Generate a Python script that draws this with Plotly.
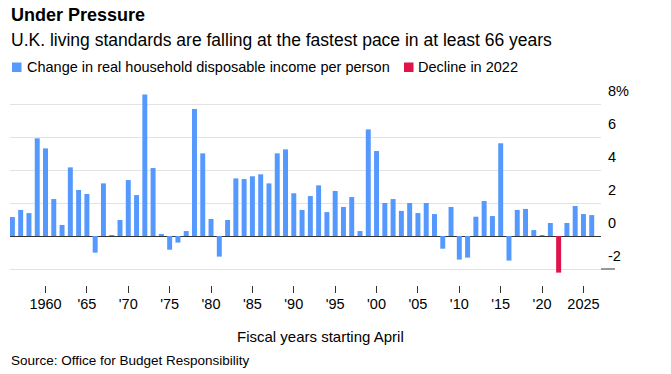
import plotly.graph_objects as go

# ---- data ----
years = list(range(1956, 2027))
values = [
    1.15, 1.58, 1.39, 5.92, 5.31, 2.24, 0.67, 4.16, 2.79, 2.55,   # 1956-1965
    -1.01, 3.19, 0.06, 0.97, 3.39, 2.48, 8.57, 4.12, 0.12, -0.83,  # 1966-1975
    -0.40, 0.30, 7.70, 5.01, 1.03, -1.25, 0.97, 3.49, 3.45, 3.62,  # 1976-1985
    3.74, 3.19, 5.01, 5.25, 2.59, 1.58, 2.42, 3.07, 1.45, 2.73,    # 1986-1995
    1.76, 2.36, 0.30, 6.46, 5.15, 2.00, 2.24, 1.52, 2.00, 1.39,    # 1996-2005
    2.00, 1.33, -0.77, 1.76, -1.43, -1.31, 1.17, 2.12, 1.21, 5.62, # 2006-2015
    -1.49, 1.58, 1.64, 0.36, 0.06, 0.79, -2.22, 0.79, 1.82, 1.33,  # 2016-2025
    1.27,                                                          # 2026
]
highlight_year = 2022

x_tickvals = [1960, 1965, 1970, 1975, 1980, 1985, 1990, 1995, 2000, 2005, 2010, 2015, 2020, 2025]
x_ticktext = ["1960", "'65", "'70", "'75", "'80", "'85", "'90", "'95", "'00", "'05", "'10", "'15", "'20", "2025"]
y_tickvals = [-2, 0, 2, 4, 6, 8]
y_ticktext = ["-2", "0", "2", "4", "6", "8%"]

series_name = "Change in real household disposable income per person"
highlight_name = "Decline in 2022"

BLUE = "#5599ff"
RED = "#e0134b"
FONT = "Liberation Sans, Arial, sans-serif"

W, H = 671, 374
# plot area in window pixels
PL, PR, PT, PB = 10, 601, 89, 285
L, R, T, B = PL, W - PR, PT, H - PB
PW, PH = PR - PL, PB - PT


def px2x(px):
    return (px - PL) / PW


def px2y(py):
    return (PB - py) / PH


blue_x = [y for y in years if y != highlight_year]
blue_v = [v for y, v in zip(years, values) if y != highlight_year]
red_x = [y for y in years if y == highlight_year]
red_v = [v for y, v in zip(years, values) if y == highlight_year]

fig = go.Figure()
fig.add_trace(go.Bar(x=blue_x, y=blue_v, width=0.6, marker=dict(color=BLUE, line=dict(width=0)),
                     name=series_name, showlegend=False))
fig.add_trace(go.Bar(x=red_x, y=red_v, width=0.6, marker=dict(color=RED, line=dict(width=0)),
                     name=highlight_name, showlegend=False))

fig.update_layout(
    width=W, height=H,
    margin=dict(l=L, r=R, t=T, b=B, pad=0),
    paper_bgcolor="white", plot_bgcolor="white",
    barmode="overlay",
    font=dict(family=FONT, color="#000", size=14),
    showlegend=False,
)

fig.update_xaxes(
    range=[1955.71, 2027.12],
    tickvals=x_tickvals, ticktext=x_ticktext,
    ticks="outside", ticklen=7, tickwidth=1, tickcolor="#333",
    ticklabelstandoff=-1,
    showgrid=False, zeroline=False, showline=False,
    tickfont=dict(size=14.5, color="#000"),
)
fig.update_yaxes(
    range=[-2.97, 8.91],
    side="right",
    tickvals=y_tickvals, ticktext=y_ticktext,
    ticklabelposition="outside top",
    ticklabelshift=-3,
    ticks="", ticklabelstandoff=6,
    showgrid=True, gridcolor="#e3e3e3", gridwidth=1,
    zeroline=True, zerolinecolor="#333", zerolinewidth=1,
    showline=False,
    tickfont=dict(size=14.5, color="#000"),
)

# dark dash at the bottom gridline in the label area
fig.add_shape(type="line", xref="paper", yref="y", x0=1.0, x1=px2x(615),
              y0=y_tickvals[0], y1=y_tickvals[0], line=dict(color="#333", width=1))

annotations = [
    dict(text="<b>Under Pressure</b>", x=px2x(9), y=px2y(15), font=dict(size=18)),
    dict(text="U.K. living standards are falling at the fastest pace in at least 66 years",
         x=px2x(9), y=px2y(40), font=dict(size=17.5)),
    dict(text=series_name, x=px2x(25), y=px2y(67), font=dict(size=14.5)),
    dict(text=highlight_name, x=px2x(416), y=px2y(67), font=dict(size=14.5)),
    dict(text="Source: Office for Budget Responsibility", x=px2x(9), y=px2y(360), font=dict(size=13.5)),
]
for a in annotations:
    fig.add_annotation(xref="paper", yref="paper", xanchor="left", yanchor="middle",
                       showarrow=False, **a)
fig.add_annotation(text="Fiscal years starting April", xref="paper", yref="paper",
                   x=px2x(320), y=px2y(336), xanchor="center", yanchor="middle",
                   showarrow=False, font=dict(size=15))

# legend swatches
for x0, col in [(12, BLUE), (404, RED)]:
    fig.add_shape(type="rect", xref="paper", yref="paper",
                  x0=px2x(x0), x1=px2x(x0 + 9.5), y0=px2y(72), y1=px2y(62.5),
                  fillcolor=col, line=dict(width=0))

# remove the browser's default body margin so the figure fills the window exactly
fig.write_html("out.html", config={"displayModeBar": False},
               post_script="document.body.style.margin='0px';")
